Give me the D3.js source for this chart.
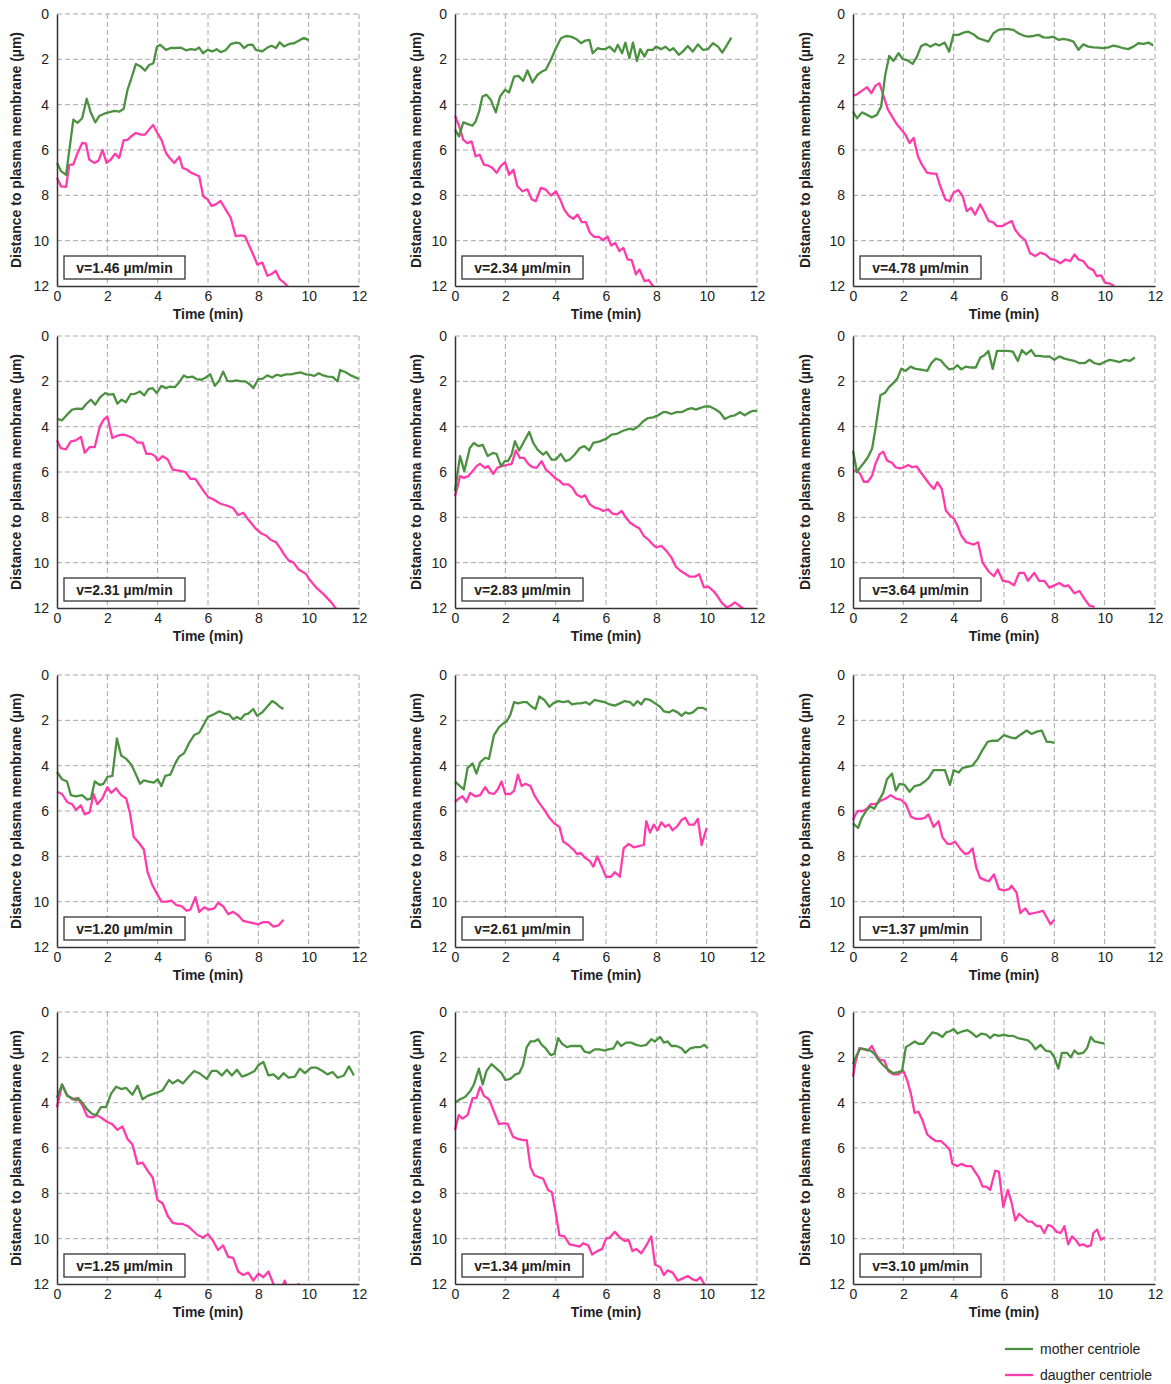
<!DOCTYPE html>
<html>
<head>
<meta charset="utf-8">
<script src="https://cdn.jsdelivr.net/npm/d3@7"></script>
<style>
  body { margin: 0; background: #fff; }
  svg { display: block; font-family: "Liberation Sans", Arial, sans-serif; }
</style>
</head>
<body>
<svg id="chart" width="1171" height="1384"></svg>
<script>
// tick values shared by every panel
const xTicks = [0, 2, 4, 6, 8, 10, 12];
const yTicks = [0, 2, 4, 6, 8, 10, 12];
const velocities = ["1.46", "2.34", "4.78", "2.31", "2.83", "3.64", "1.20", "2.61", "1.37", "1.25", "1.34", "3.10"];

// [time (min), distance (µm)]
const p1Mother = [[0,6.57],[0.16,6.93],[0.36,7.1],[0.65,4.66],[0.82,4.8],[1.0,4.6],[1.18,3.74],[1.35,4.37],[1.52,4.78],[1.68,4.5],[1.94,4.37],[2.28,4.27],[2.47,4.31],[2.65,4.18],[2.8,3.35],[2.94,2.9],[3.13,2.21],[3.33,2.32],[3.5,2.5],[3.66,2.25],[3.83,2.17],[3.97,1.44],[4.1,1.36],[4.33,1.58],[4.52,1.5],[4.72,1.5],[4.92,1.48],[5.12,1.6],[5.32,1.55],[5.5,1.58],[5.65,1.48],[5.8,1.73],[5.98,1.58],[6.18,1.65],[6.34,1.55],[6.5,1.68],[6.7,1.6],[6.9,1.33],[7.1,1.26],[7.26,1.29],[7.43,1.5],[7.6,1.36],[7.77,1.35],[7.9,1.58],[8.16,1.65],[8.36,1.48],[8.53,1.4],[8.7,1.5],[8.85,1.25],[9.02,1.43],[9.22,1.32],[9.42,1.29],[9.62,1.17],[9.78,1.07],[9.88,1.08],[10.0,1.17]];
const p1Daughter = [[0,7.23],[0.16,7.6],[0.36,7.63],[0.49,6.66],[0.65,6.63],[0.82,6.13],[1.0,5.69],[1.15,5.72],[1.28,6.42],[1.48,6.57],[1.65,6.47],[1.81,6.0],[1.97,6.57],[2.14,6.42],[2.31,6.16],[2.47,6.35],[2.65,5.57],[2.8,5.55],[2.98,5.37],[3.13,5.25],[3.33,5.32],[3.5,5.32],[3.66,5.1],[3.82,4.9],[3.99,5.25],[4.15,5.55],[4.33,6.13],[4.48,6.35],[4.66,6.57],[4.86,6.3],[4.99,6.79],[5.16,6.86],[5.32,7.0],[5.49,7.08],[5.65,7.16],[5.81,8.04],[5.98,8.17],[6.14,8.47],[6.31,8.4],[6.5,8.25],[6.7,8.62],[6.9,8.98],[7.1,9.8],[7.3,9.77],[7.47,9.8],[7.63,10.2],[7.79,10.6],[7.96,11.05],[8.16,10.97],[8.36,11.55],[8.53,11.47],[8.69,11.33],[8.85,11.7],[9.02,11.85],[9.15,12.0],[9.25,12.15]];

const p2Mother = [[0,5.1],[0.16,5.4],[0.33,4.78],[0.49,4.85],[0.69,4.93],[0.82,4.74],[0.96,4.3],[1.09,3.64],[1.25,3.56],[1.42,3.78],[1.62,4.34],[1.79,3.64],[1.99,3.34],[2.15,3.46],[2.35,2.76],[2.52,2.73],[2.71,2.95],[2.88,2.49],[3.08,3.02],[3.28,2.68],[3.45,2.54],[3.61,2.46],[3.81,2.02],[4.01,1.51],[4.21,1.07],[4.41,0.97],[4.61,1.0],[4.81,1.1],[5.01,1.29],[5.18,1.17],[5.34,1.14],[5.47,1.73],[5.67,1.51],[5.8,1.55],[5.98,1.55],[6.14,1.44],[6.34,1.66],[6.47,1.36],[6.64,1.73],[6.77,1.26],[6.93,1.95],[7.07,1.26],[7.23,2.07],[7.36,1.55],[7.53,1.88],[7.66,1.58],[7.86,1.58],[7.99,1.44],[8.19,1.55],[8.36,1.44],[8.53,1.61],[8.68,1.51],[8.89,1.8],[9.05,1.66],[9.25,1.41],[9.45,1.66],[9.65,1.34],[9.85,1.58],[10.05,1.55],[10.25,1.29],[10.45,1.44],[10.62,1.7],[10.81,1.36],[10.98,1.04]];
const p2Daughter = [[0,4.49],[0.16,4.93],[0.33,5.55],[0.49,5.7],[0.66,5.62],[0.82,6.28],[0.98,6.21],[1.15,6.65],[1.33,6.69],[1.49,6.79],[1.65,7.01],[1.82,6.71],[1.99,6.53],[2.15,7.09],[2.32,6.87],[2.48,7.6],[2.68,7.82],[2.88,7.74],[3.05,8.18],[3.21,8.26],[3.41,7.67],[3.61,7.75],[3.81,8.01],[4.01,7.82],[4.18,8.18],[4.34,8.63],[4.51,8.89],[4.7,9.04],[4.87,8.85],[5.04,9.18],[5.2,9.18],[5.36,9.65],[5.53,9.83],[5.71,9.83],[5.89,9.98],[6.06,9.81],[6.2,10.21],[6.37,10.1],[6.53,10.46],[6.69,10.32],[6.86,10.83],[7.02,10.86],[7.19,11.49],[7.33,11.27],[7.53,11.78],[7.7,11.74],[7.86,12.0],[7.97,12.07]];

const p3Mother = [[0,4.3],[0.16,4.6],[0.36,4.34],[0.56,4.45],[0.75,4.56],[0.95,4.45],[1.12,4.08],[1.28,2.69],[1.44,1.85],[1.61,2.07],[1.81,1.73],[1.98,1.99],[2.18,2.05],[2.37,2.2],[2.54,1.88],[2.71,1.41],[2.9,1.32],[3.07,1.44],[3.27,1.32],[3.43,1.39],[3.64,1.26],[3.82,1.66],[3.99,0.92],[4.19,0.92],[4.39,0.82],[4.58,0.78],[4.78,0.89],[4.98,1.07],[5.18,1.14],[5.38,1.22],[5.58,0.85],[5.78,0.7],[5.98,0.67],[6.17,0.67],[6.37,0.7],[6.57,0.85],[6.77,0.95],[6.97,1.0],[7.17,0.97],[7.37,0.92],[7.57,1.03],[7.77,1.04],[7.96,1.0],[8.16,1.14],[8.36,1.1],[8.56,1.14],[8.76,1.22],[8.96,1.58],[9.15,1.34],[9.35,1.44],[9.55,1.47],[9.75,1.48],[9.95,1.51],[10.15,1.47],[10.35,1.39],[10.54,1.44],[10.74,1.51],[10.94,1.55],[11.14,1.44],[11.34,1.29],[11.54,1.32],[11.74,1.26],[11.93,1.39]];
const p3Daughter = [[0,3.61],[0.16,3.54],[0.36,3.38],[0.56,3.23],[0.73,3.49],[0.89,3.17],[1.05,3.05],[1.22,3.64],[1.39,4.22],[1.55,4.52],[1.75,4.88],[1.92,5.1],[2.08,5.32],[2.25,5.69],[2.41,5.47],[2.58,6.28],[2.74,6.65],[2.94,7.0],[3.14,7.04],[3.31,7.04],[3.47,7.6],[3.67,8.18],[3.84,8.26],[4.0,7.89],[4.19,7.77],[4.36,8.04],[4.52,8.7],[4.69,8.55],[4.85,8.85],[5.05,8.4],[5.23,8.77],[5.39,9.14],[5.56,9.18],[5.72,9.36],[5.92,9.36],[6.11,9.24],[6.31,9.14],[6.44,9.51],[6.64,9.8],[6.84,9.98],[7.04,10.56],[7.24,10.68],[7.44,10.53],[7.64,10.61],[7.84,10.8],[8.04,10.86],[8.24,11.0],[8.44,10.83],[8.63,10.9],[8.8,10.61],[8.96,10.83],[9.15,10.9],[9.35,11.19],[9.55,11.3],[9.68,11.56],[9.86,11.53],[10.01,11.85],[10.21,11.9],[10.38,12.0]];

const p4Mother = [[0,3.66],[0.2,3.72],[0.4,3.47],[0.6,3.25],[0.8,3.2],[1.0,3.22],[1.16,3.0],[1.35,2.81],[1.52,3.03],[1.71,2.71],[1.91,2.52],[2.08,2.59],[2.24,2.56],[2.4,2.99],[2.57,2.81],[2.74,2.92],[2.93,2.56],[3.1,2.55],[3.3,2.45],[3.47,2.62],[3.63,2.34],[3.8,2.3],[3.96,2.52],[4.15,2.2],[4.33,2.3],[4.48,2.23],[4.68,2.26],[4.85,2.05],[5.04,1.74],[5.18,1.83],[5.38,1.79],[5.54,1.9],[5.74,1.93],[5.91,1.83],[6.09,1.69],[6.27,2.2],[6.44,1.98],[6.6,1.57],[6.77,1.98],[6.95,2.0],[7.12,1.96],[7.32,2.0],[7.49,2.0],[7.68,2.15],[7.8,2.3],[8.0,1.9],[8.18,1.88],[8.35,1.74],[8.55,1.83],[8.73,1.71],[8.9,1.76],[9.1,1.69],[9.3,1.69],[9.5,1.64],[9.69,1.61],[9.89,1.69],[10.06,1.71],[10.22,1.76],[10.4,1.64],[10.58,1.74],[10.75,1.79],[10.95,1.8],[11.15,2.0],[11.25,1.5],[11.47,1.6],[11.7,1.75],[12,1.9]];
const p4Daughter = [[0,4.6],[0.15,4.95],[0.35,5.0],[0.55,4.65],[0.75,4.6],[0.95,4.45],[1.1,5.15],[1.3,4.9],[1.5,4.9],[1.7,4.0],[1.85,3.7],[2.0,3.55],[2.2,4.5],[2.4,4.4],[2.6,4.35],[2.8,4.4],[3.0,4.5],[3.2,4.7],[3.4,4.7],[3.55,5.2],[3.75,5.2],[3.9,5.3],[4.0,5.5],[4.2,5.3],[4.4,5.45],[4.6,5.9],[4.9,5.95],[5.1,6.0],[5.3,6.3],[5.5,6.3],[5.8,6.8],[6.0,7.1],[6.2,7.2],[6.5,7.4],[6.8,7.5],[7.0,7.6],[7.2,7.9],[7.4,7.8],[7.6,8.1],[7.9,8.5],[8.1,8.7],[8.3,8.8],[8.5,9.0],[8.7,9.1],[8.9,9.4],[9.0,9.6],[9.2,9.9],[9.4,10.0],[9.6,10.3],[9.9,10.5],[10.0,10.7],[10.3,11.1],[10.6,11.4],[10.9,11.75],[11.1,12.05]];

const p5Mother = [[0,6.84],[0.2,5.3],[0.37,5.96],[0.59,4.94],[0.75,4.72],[0.93,4.86],[1.1,4.8],[1.3,5.3],[1.5,5.16],[1.65,5.2],[1.83,5.74],[1.98,5.52],[2.1,5.52],[2.25,5.23],[2.38,4.64],[2.55,5.05],[2.71,4.72],[2.95,4.23],[3.11,4.72],[3.28,5.01],[3.5,5.23],[3.63,5.11],[3.84,5.45],[4.01,5.45],[4.2,5.2],[4.39,5.52],[4.56,5.45],[4.76,5.23],[4.96,4.94],[5.14,4.86],[5.33,5.05],[5.49,4.72],[5.76,4.65],[6.02,4.53],[6.22,4.35],[6.42,4.32],[6.68,4.18],[6.95,4.09],[7.08,4.13],[7.28,3.99],[7.47,3.77],[7.67,3.62],[7.87,3.59],[8.07,3.5],[8.27,3.36],[8.4,3.36],[8.6,3.44],[8.8,3.36],[9.0,3.36],[9.2,3.25],[9.4,3.18],[9.57,3.25],[9.73,3.18],[9.93,3.11],[10.12,3.11],[10.32,3.22],[10.52,3.36],[10.72,3.66],[10.92,3.55],[11.12,3.5],[11.32,3.36],[11.51,3.5],[11.71,3.36],[11.85,3.3],[12,3.3]];
const p5Daughter = [[0,7.06],[0.09,6.7],[0.2,6.18],[0.35,6.26],[0.53,6.18],[0.7,5.96],[0.86,5.74],[0.99,5.64],[1.19,5.82],[1.32,5.74],[1.52,6.08],[1.68,5.82],[1.85,5.74],[2.05,5.7],[2.25,5.64],[2.42,5.05],[2.58,5.38],[2.74,5.38],[2.91,5.64],[3.08,5.79],[3.24,5.82],[3.44,5.52],[3.61,5.89],[3.77,6.04],[3.97,6.26],[4.14,6.37],[4.3,6.55],[4.5,6.55],[4.67,6.7],[4.83,6.99],[5.03,7.11],[5.16,7.02],[5.36,7.43],[5.56,7.58],[5.73,7.62],[5.89,7.72],[6.09,7.65],[6.26,7.84],[6.44,7.87],[6.62,7.72],[6.79,8.01],[6.95,8.23],[7.15,8.38],[7.32,8.48],[7.5,8.82],[7.67,8.97],[7.85,9.19],[8.0,9.33],[8.2,9.26],[8.4,9.48],[8.6,9.77],[8.78,10.18],[8.96,10.36],[9.13,10.48],[9.33,10.62],[9.53,10.62],[9.7,10.51],[9.89,11.09],[10.06,11.06],[10.26,11.24],[10.42,11.46],[10.59,11.75],[10.79,11.97],[10.95,11.9],[11.12,11.75],[11.3,11.9],[11.47,12.05]];

const p6Mother = [[0,5.06],[0.16,6.01],[0.29,5.79],[0.45,5.57],[0.59,5.35],[0.76,4.96],[0.89,4.11],[1.09,2.61],[1.29,2.49],[1.42,2.27],[1.6,2.08],[1.76,1.88],[1.92,1.44],[2.09,1.54],[2.29,1.35],[2.45,1.44],[2.62,1.47],[2.79,1.5],[2.95,1.54],[3.11,1.2],[3.29,1.0],[3.49,1.07],[3.65,1.29],[3.82,1.47],[3.99,1.44],[4.15,1.29],[4.31,1.47],[4.48,1.35],[4.68,1.39],[4.88,1.39],[5.06,0.95],[5.22,0.85],[5.38,0.66],[5.55,1.45],[5.72,0.66],[5.91,0.66],[6.15,0.66],[6.35,0.69],[6.55,1.1],[6.71,0.62],[6.88,0.81],[7.08,0.62],[7.24,0.88],[7.41,0.88],[7.61,0.91],[7.8,0.9],[8.0,1.05],[8.2,0.9],[8.4,1.0],[8.6,1.05],[8.8,1.1],[9.0,1.2],[9.2,1.2],[9.4,1.05],[9.6,1.2],[9.8,1.25],[10.0,1.15],[10.2,1.05],[10.4,1.1],[10.6,1.15],[10.8,1.05],[11.0,1.1],[11.2,0.95]];
const p6Daughter = [[0,5.94],[0.16,5.94],[0.29,6.09],[0.43,6.43],[0.59,6.43],[0.76,6.16],[0.89,5.65],[1.06,5.21],[1.2,5.1],[1.36,5.5],[1.56,5.6],[1.69,5.79],[1.86,5.84],[2.02,5.79],[2.2,5.69],[2.35,5.79],[2.53,5.75],[2.69,6.01],[2.89,6.31],[3.06,6.57],[3.22,6.75],[3.35,6.45],[3.53,6.75],[3.69,7.7],[3.88,7.95],[4.02,8.07],[4.15,8.36],[4.3,8.8],[4.5,9.1],[4.8,9.2],[4.97,9.1],[5.15,10.0],[5.4,10.4],[5.6,10.6],[5.75,10.3],[5.95,10.8],[6.2,10.85],[6.4,11.0],[6.6,10.45],[6.8,10.45],[6.95,10.8],[7.2,10.45],[7.4,10.8],[7.6,10.8],[7.8,11.1],[8.0,11.0],[8.2,10.9],[8.4,11.05],[8.55,11.0],[8.8,11.35],[9.0,11.25],[9.2,11.6],[9.4,11.9],[9.6,11.95]];

const p7Mother = [[0,4.28],[0.2,4.6],[0.4,4.7],[0.55,5.3],[0.75,5.35],[1.0,5.3],[1.2,5.5],[1.35,5.45],[1.5,4.7],[1.7,4.85],[1.85,4.8],[2.0,4.5],[2.2,4.45],[2.38,2.8],[2.55,3.55],[2.75,3.7],[2.95,3.95],[3.1,4.3],[3.3,4.8],[3.45,4.65],[3.65,4.7],[3.85,4.75],[4.0,4.6],[4.15,4.9],[4.3,4.45],[4.5,4.4],[4.7,3.9],[4.85,3.6],[5.05,3.45],[5.25,3.0],[5.45,2.65],[5.65,2.55],[5.85,2.15],[6.0,1.85],[6.2,1.75],[6.45,1.6],[6.65,1.7],[6.85,1.75],[7.0,1.95],[7.15,1.85],[7.3,1.95],[7.45,1.75],[7.6,1.7],[7.8,1.5],[7.95,1.8],[8.15,1.65],[8.35,1.4],[8.55,1.15],[8.7,1.25],[8.85,1.4],[9.0,1.5]];
const p7Daughter = [[0,5.15],[0.2,5.25],[0.4,5.6],[0.6,5.7],[0.75,5.95],[0.95,5.75],[1.1,6.15],[1.3,6.05],[1.45,5.25],[1.6,5.7],[1.8,5.45],[2.0,4.95],[2.15,5.2],[2.35,5.0],[2.55,5.3],[2.75,5.45],[2.9,6.1],[3.05,7.15],[3.25,7.4],[3.45,7.7],[3.6,8.7],[3.8,9.3],[3.95,9.6],[4.15,10.0],[4.35,10.0],[4.55,9.95],[4.75,10.15],[4.95,10.2],[5.15,10.4],[5.3,10.35],[5.5,9.8],[5.65,10.45],[5.85,10.25],[6.05,10.35],[6.25,10.3],[6.4,10.05],[6.6,10.2],[6.8,10.55],[7.0,10.45],[7.2,10.6],[7.4,10.85],[7.6,10.9],[7.8,10.95],[8.0,11.0],[8.2,10.9],[8.4,10.9],[8.6,11.1],[8.8,11.05],[9.0,10.8]];

const p8Mother = [[0,4.7],[0.2,4.9],[0.35,5.05],[0.5,4.1],[0.7,3.9],[0.85,4.35],[1.0,3.85],[1.2,3.65],[1.35,3.7],[1.55,2.65],[1.75,2.3],[1.9,2.15],[2.05,2.05],[2.2,1.75],[2.35,1.2],[2.5,1.25],[2.7,1.2],[2.85,1.2],[3.05,1.4],[3.2,1.5],[3.35,0.95],[3.55,1.1],[3.75,1.4],[3.9,1.25],[4.1,1.15],[4.3,1.2],[4.5,1.15],[4.65,1.3],[4.85,1.25],[5.0,1.25],[5.2,1.2],[5.35,1.3],[5.55,1.1],[5.75,1.15],[5.95,1.2],[6.15,1.3],[6.35,1.35],[6.55,1.25],[6.75,1.15],[6.95,1.2],[7.1,1.35],[7.25,1.15],[7.4,1.3],[7.55,1.05],[7.75,1.1],[7.95,1.25],[8.15,1.4],[8.3,1.6],[8.5,1.65],[8.65,1.55],[8.85,1.65],[9.0,1.8],[9.15,1.65],[9.3,1.7],[9.45,1.65],[9.65,1.45],[9.85,1.45],[10.0,1.55]];
const p8Daughter = [[0,5.6],[0.15,5.45],[0.3,5.35],[0.45,5.6],[0.6,5.2],[0.8,5.35],[1.0,5.3],[1.2,4.95],[1.35,5.2],[1.55,5.25],[1.7,5.05],[1.85,4.7],[2.0,5.25],[2.2,5.25],[2.35,5.1],[2.5,4.4],[2.65,4.9],[2.8,4.8],[3.0,4.9],[3.15,5.3],[3.35,5.65],[3.55,5.95],[3.75,6.3],[3.95,6.55],[4.15,6.7],[4.3,7.35],[4.5,7.5],[4.7,7.7],[4.85,7.9],[5.0,7.85],[5.15,8.05],[5.35,8.2],[5.5,8.45],[5.65,8.0],[5.85,8.5],[6.0,8.9],[6.2,8.9],[6.35,8.7],[6.55,8.9],[6.7,7.65],[6.9,7.45],[7.1,7.6],[7.3,7.55],[7.5,7.5],[7.6,6.45],[7.75,6.95],[7.9,6.6],[8.05,6.85],[8.2,6.5],[8.35,6.7],[8.5,6.6],[8.65,6.85],[8.85,6.65],[9.0,6.4],[9.15,6.3],[9.3,6.6],[9.5,6.6],[9.65,6.35],[9.8,7.5],[10.0,6.75]];

const p9Mother = [[0,6.55],[0.2,6.75],[0.35,6.3],[0.55,5.95],[0.7,5.8],[0.85,5.9],[1.0,5.6],[1.2,5.2],[1.35,4.6],[1.55,4.35],[1.7,5.1],[1.85,4.8],[2.05,4.85],[2.25,5.15],[2.45,4.9],[2.65,4.85],[2.85,4.7],[3.0,4.55],[3.2,4.2],[3.45,4.2],[3.65,4.2],[3.85,4.85],[4.0,4.2],[4.2,4.3],[4.35,4.1],[4.55,4.05],[4.75,4.0],[4.95,3.7],[5.15,3.3],[5.35,2.95],[5.55,2.9],[5.75,2.9],[6.0,2.65],[6.25,2.75],[6.45,2.8],[6.7,2.6],[6.9,2.45],[7.1,2.6],[7.3,2.5],[7.5,2.45],[7.7,2.95],[7.85,2.95],[8.0,3.0]];
const p9Daughter = [[0,6.4],[0.1,6.15],[0.2,6.0],[0.4,6.0],[0.55,5.9],[0.7,5.7],[0.9,5.7],[1.1,5.55],[1.3,5.45],[1.5,5.3],[1.7,5.45],[1.9,5.5],[2.1,5.7],[2.3,6.25],[2.5,6.35],[2.7,6.35],[2.85,6.3],[3.0,6.15],[3.2,6.7],[3.4,6.45],[3.55,7.15],[3.75,7.45],[3.9,7.45],[4.05,7.35],[4.25,7.65],[4.45,7.9],[4.6,7.85],[4.75,7.65],[4.9,8.5],[5.05,8.95],[5.25,9.05],[5.4,9.1],[5.6,8.8],[5.8,9.45],[6.0,9.5],[6.2,9.45],[6.3,9.3],[6.5,9.6],[6.65,10.5],[6.85,10.3],[7.0,10.55],[7.2,10.5],[7.4,10.45],[7.55,10.4],[7.7,10.7],[7.85,11.0],[8.0,10.8]];

const p10Mother = [[0,3.78],[0.2,3.2],[0.4,3.7],[0.6,3.8],[0.75,3.9],[0.85,3.8],[1.0,4.0],[1.2,4.3],[1.4,4.5],[1.55,4.55],[1.75,4.2],[1.95,4.2],[2.15,3.6],[2.35,3.3],[2.55,3.4],[2.75,3.35],[3.0,3.65],[3.2,3.25],[3.4,3.85],[3.6,3.7],[3.85,3.6],[4.0,3.55],[4.2,3.45],[4.45,3.0],[4.6,3.15],[4.8,3.0],[5.0,3.15],[5.2,2.9],[5.45,2.6],[5.65,2.7],[5.95,2.95],[6.15,2.6],[6.35,2.6],[6.55,2.8],[6.75,2.55],[6.95,2.8],[7.15,2.55],[7.35,2.85],[7.6,2.75],[7.85,2.6],[8.0,2.35],[8.2,2.2],[8.4,2.8],[8.6,2.75],[8.8,2.95],[9.0,2.7],[9.2,2.9],[9.45,2.85],[9.65,2.5],[9.85,2.7],[10.1,2.45],[10.3,2.45],[10.55,2.6],[10.75,2.75],[10.95,2.65],[11.15,2.9],[11.4,2.8],[11.6,2.4],[11.8,2.8]];
const p10Daughter = [[0,4.2],[0.2,3.2],[0.4,3.65],[0.6,3.85],[0.8,3.8],[1.0,4.1],[1.2,4.6],[1.4,4.65],[1.6,4.55],[1.8,4.7],[2.0,4.85],[2.2,4.95],[2.4,5.2],[2.6,5.05],[2.8,5.6],[3.0,5.85],[3.2,6.7],[3.4,6.65],[3.6,7.0],[3.8,7.3],[4.0,8.3],[4.2,8.45],[4.4,9.0],[4.6,9.3],[4.8,9.35],[5.0,9.35],[5.2,9.45],[5.4,9.65],[5.6,9.85],[5.8,9.95],[6.0,9.8],[6.2,10.1],[6.4,10.5],[6.6,10.3],[6.8,10.8],[7.0,10.85],[7.2,11.45],[7.4,11.6],[7.6,11.5],[7.8,11.85],[8.0,11.55],[8.2,11.7],[8.4,11.45],[8.6,12.0],[8.85,12.4],[9.05,11.85],[9.2,12.3],[9.45,12.4],[9.6,12.0],[9.8,12.5]];

const p11Mother = [[0,4.0],[0.2,3.85],[0.4,3.75],[0.6,3.5],[0.75,3.2],[0.95,2.5],[1.1,3.2],[1.25,2.6],[1.45,2.3],[1.65,2.5],[1.85,2.7],[2.0,3.0],[2.2,2.95],[2.4,2.75],[2.55,2.7],[2.7,2.35],[2.85,1.55],[3.0,1.3],[3.15,1.3],[3.3,1.2],[3.45,1.45],[3.6,1.6],[3.8,1.9],[3.95,1.85],[4.1,1.15],[4.25,1.4],[4.45,1.55],[4.6,1.5],[4.8,1.5],[5.0,1.5],[5.15,1.75],[5.35,1.8],[5.55,1.65],[5.75,1.65],[5.95,1.7],[6.1,1.65],[6.3,1.6],[6.45,1.3],[6.6,1.5],[6.8,1.35],[7.0,1.35],[7.2,1.45],[7.4,1.5],[7.6,1.45],[7.8,1.2],[7.95,1.3],[8.15,1.1],[8.3,1.35],[8.45,1.3],[8.6,1.5],[8.8,1.5],[9.0,1.6],[9.15,1.8],[9.35,1.6],[9.55,1.55],[9.75,1.55],[9.9,1.45],[10.05,1.6]];
const p11Daughter = [[0,5.2],[0.15,4.55],[0.3,4.7],[0.5,4.55],[0.7,3.8],[0.85,3.8],[1.0,3.3],[1.15,3.7],[1.35,3.85],[1.55,4.4],[1.75,4.95],[1.95,4.9],[2.1,4.95],[2.3,5.5],[2.5,5.6],[2.7,5.65],[2.85,5.65],[3.0,6.85],[3.15,7.2],[3.35,7.3],[3.5,7.35],[3.7,7.85],[3.85,7.95],[4.0,8.85],[4.15,9.85],[4.35,9.9],[4.55,10.25],[4.75,10.3],[4.95,10.35],[5.1,10.2],[5.3,10.3],[5.45,10.7],[5.65,10.55],[5.85,10.45],[6.0,10.0],[6.15,9.95],[6.35,9.7],[6.55,9.95],[6.75,10.1],[6.9,10.05],[7.05,10.55],[7.2,10.45],[7.4,10.65],[7.6,10.3],[7.8,9.9],[7.95,11.15],[8.15,11.25],[8.3,11.6],[8.45,11.4],[8.65,11.5],[8.85,11.85],[9.05,11.75],[9.25,11.65],[9.45,11.8],[9.6,11.85],[9.75,11.7],[9.95,12.1]];

const p12Mother = [[0,2.3],[0.15,1.9],[0.3,1.6],[0.5,1.65],[0.7,1.7],[0.85,1.85],[1.0,2.1],[1.2,2.35],[1.4,2.55],[1.6,2.7],[1.8,2.65],[1.95,2.6],[2.1,1.55],[2.25,1.45],[2.45,1.3],[2.6,1.4],[2.8,1.4],[3.0,1.1],[3.15,0.9],[3.35,0.95],[3.55,1.1],[3.7,0.9],[3.85,0.85],[4.0,0.75],[4.15,0.95],[4.35,0.85],[4.55,0.8],[4.75,0.95],[4.9,1.1],[5.1,0.95],[5.3,1.0],[5.45,1.15],[5.6,1.0],[5.8,1.05],[6.0,1.0],[6.15,1.05],[6.35,1.05],[6.55,1.15],[6.75,1.2],[6.95,1.25],[7.1,1.4],[7.25,1.65],[7.45,1.45],[7.65,1.7],[7.85,1.75],[8.0,2.0],[8.16,2.5],[8.3,1.8],[8.5,1.8],[8.65,2.0],[8.8,1.7],[8.95,1.85],[9.15,1.8],[9.3,1.6],[9.45,1.1],[9.6,1.3],[9.8,1.35],[10.0,1.4]];
const p12Daughter = [[0,2.85],[0.1,2.2],[0.25,1.6],[0.45,1.65],[0.6,1.7],[0.75,1.5],[0.9,1.85],[1.05,2.1],[1.25,2.15],[1.4,2.6],[1.6,2.75],[1.8,2.75],[2.0,2.6],[2.15,3.0],[2.3,3.6],[2.45,4.45],[2.6,4.4],[2.75,4.75],[2.95,5.4],[3.1,5.55],[3.3,5.7],[3.5,5.7],[3.7,5.9],[3.85,6.1],[3.95,6.7],[4.15,6.8],[4.3,6.7],[4.5,6.8],[4.7,6.8],[4.85,7.05],[5.0,7.3],[5.15,7.7],[5.3,7.7],[5.45,7.85],[5.65,7.0],[5.8,7.05],[5.97,8.6],[6.15,7.85],[6.3,8.4],[6.45,9.2],[6.6,8.9],[6.8,9.1],[6.95,9.25],[7.1,9.25],[7.3,9.45],[7.45,9.45],[7.6,9.75],[7.75,9.4],[7.9,9.45],[8.1,9.7],[8.25,9.75],[8.4,9.45],[8.55,10.25],[8.7,9.9],[8.85,10.05],[9.0,10.3],[9.15,10.25],[9.3,10.35],[9.45,10.3],[9.55,9.75],[9.7,9.6],[9.85,10.05],[10.0,9.95]];

const motherSeries = [p1Mother, p2Mother, p3Mother, p4Mother, p5Mother, p6Mother, p7Mother, p8Mother, p9Mother, p10Mother, p11Mother, p12Mother];
const daughterSeries = [p1Daughter, p2Daughter, p3Daughter, p4Daughter, p5Daughter, p6Daughter, p7Daughter, p8Daughter, p9Daughter, p10Daughter, p11Daughter, p12Daughter];

const legendLabels = ["mother centriole", "daugther centriole"];
const motherColor = "#4b9140";
const daughterColor = "#ff3aab";

// layout
const colX = [57, 455, 853];
const rowY = [14, 336, 675, 1012];
const titleOffset = [36, 34, 43];
const plotW = 302;
const plotH = 272;

const svg = d3.select("#chart");

motherSeries.forEach((mother, i) => {
  const col = i % 3;
  const row = Math.floor(i / 3);
  const x0 = colX[col];
  const y0 = rowY[row];

  const x = d3.scaleLinear().domain([0, 12]).range([0, plotW]);
  const y = d3.scaleLinear().domain([0, 12]).range([0, plotH]);

  const g = svg.append("g").attr("transform", `translate(${x0},${y0})`);

  g.append("clipPath")
    .attr("id", `clip${i}`)
    .append("rect")
    .attr("x", -2)
    .attr("y", -2)
    .attr("width", plotW + 4)
    .attr("height", plotH + 2);

  // dashed grid
  g.append("g")
    .selectAll("line")
    .data(xTicks.slice(1))
    .enter()
    .append("line")
    .attr("x1", (d) => x(d))
    .attr("x2", (d) => x(d))
    .attr("y1", 0)
    .attr("y2", plotH)
    .attr("stroke", "#a8a8a8")
    .attr("stroke-dasharray", "5,3");

  g.append("g")
    .selectAll("line")
    .data(yTicks.slice(0, -1))
    .enter()
    .append("line")
    .attr("x1", 0)
    .attr("x2", plotW)
    .attr("y1", (d) => y(d))
    .attr("y2", (d) => y(d))
    .attr("stroke", "#a8a8a8")
    .attr("stroke-dasharray", "5,3");

  const line = d3
    .line()
    .x((d) => x(d[0]))
    .y((d) => y(d[1]))
    .curve(d3.curveLinear);

  g.append("path")
    .attr("clip-path", `url(#clip${i})`)
    .attr("fill", "none")
    .attr("stroke", daughterColor)
    .attr("stroke-width", 2.3)
    .attr("stroke-linejoin", "round")
    .attr("d", line(daughterSeries[i]));

  g.append("path")
    .attr("clip-path", `url(#clip${i})`)
    .attr("fill", "none")
    .attr("stroke", motherColor)
    .attr("stroke-width", 2.3)
    .attr("stroke-linejoin", "round")
    .attr("d", line(mother));

  // axes
  const xAxis = g.append("g")
    .attr("transform", `translate(0,${plotH})`)
    .call(d3.axisBottom(x).tickValues(xTicks).tickSize(0).tickPadding(5));
  const yAxis = g.append("g")
    .call(d3.axisLeft(y).tickValues(yTicks).tickSize(0).tickPadding(8));

  [xAxis, yAxis].forEach((a) => {
    a.select(".domain").attr("stroke", "#333").attr("stroke-width", 1.5);
    a.selectAll("text")
      .attr("font-size", 14)
      .attr("font-family", "Liberation Sans, Arial, sans-serif")
      .attr("fill", "#222");
  });

  g.append("text")
    .attr("x", plotW / 2)
    .attr("y", plotH + 33)
    .attr("text-anchor", "middle")
    .attr("font-size", 14)
    .attr("font-weight", "bold")
    .attr("fill", "#222")
    .text("Time (min)");

  g.append("text")
    .attr("transform", `translate(${-titleOffset[col]},${plotH / 2}) rotate(-90)`)
    .attr("text-anchor", "middle")
    .attr("font-size", 14)
    .attr("font-weight", "bold")
    .attr("fill", "#222")
    .text("Distance to plasma membrane (µm)");

  // velocity box
  const box = g.append("g").attr("transform", `translate(7,${plotH - 30})`);
  box.append("rect")
    .attr("width", 121)
    .attr("height", 23)
    .attr("fill", "#fff")
    .attr("stroke", "#333")
    .attr("stroke-width", 1.3);
  box.append("text")
    .attr("x", 60.5)
    .attr("y", 16.5)
    .attr("text-anchor", "middle")
    .attr("font-size", 14)
    .attr("font-weight", "bold")
    .attr("fill", "#222")
    .text(`v=${velocities[i]} µm/min`);
});

// legend
const legend = svg.append("g").attr("transform", "translate(1005,1349)");
legend.selectAll("g")
  .data(legendLabels)
  .enter()
  .append("g")
  .attr("transform", (d, i) => `translate(0,${i * 26})`)
  .each(function (d, i) {
    const item = d3.select(this);
    item.append("line")
      .attr("x1", 0)
      .attr("x2", 28)
      .attr("stroke", i === 0 ? motherColor : daughterColor)
      .attr("stroke-width", 2.3);
    item.append("text")
      .attr("x", 35)
      .attr("y", 5)
      .attr("font-size", 14)
      .attr("fill", "#222")
      .text(d);
  });
</script>
</body>
</html>
